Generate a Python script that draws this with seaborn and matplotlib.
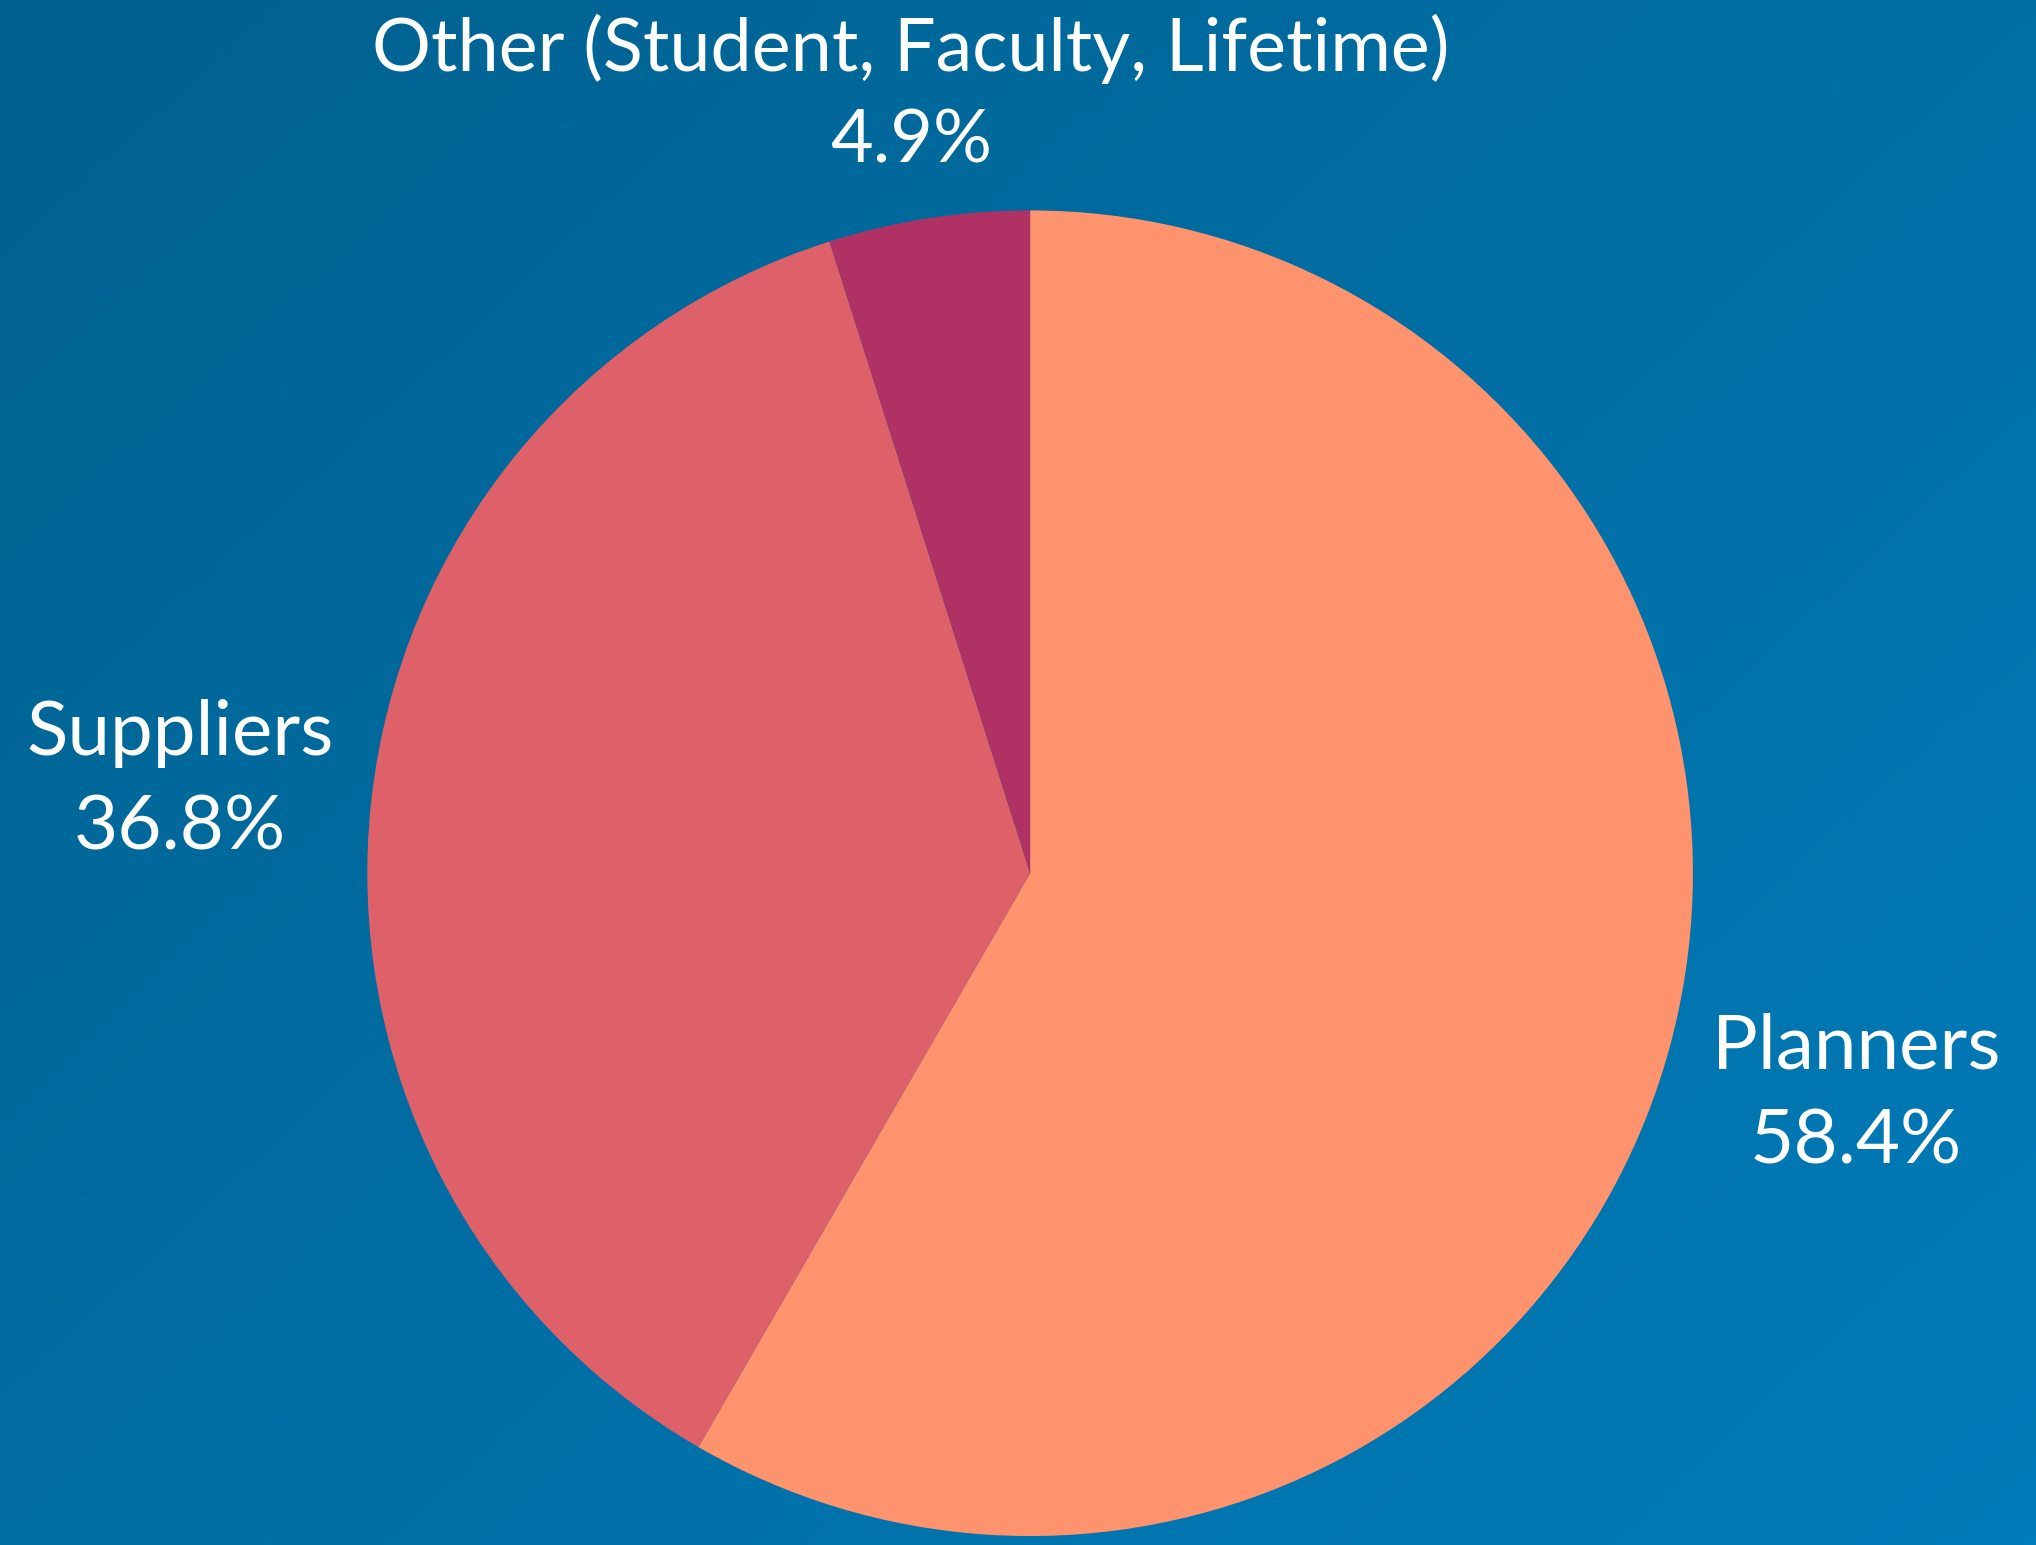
import numpy as np
import matplotlib
matplotlib.use('Agg')
import matplotlib.pyplot as plt
from matplotlib.colors import LinearSegmentedColormap
import seaborn as sns

# data
segments = ['Planners', 'Suppliers', 'Other (Student, Faculty, Lifetime)']
shares = [58.4, 36.8, 4.9]
colors = ['#FF936E', '#DE6169', '#B03265']

sns.set_theme(style='white')
plt.rcParams['font.family'] = ['Lato', 'DejaVu Sans']

fig = plt.figure(figsize=(20.36, 15.45), dpi=100)

# background gradient, dark top-left -> lighter bottom-right
bg = fig.add_axes([0, 0, 1, 1], zorder=0)
gx, gy = np.meshgrid(np.linspace(0, 1, 400), np.linspace(0, 1, 300))
grad = (gx * 0.55 + gy * 0.45)
cmap = LinearSegmentedColormap.from_list('bg', ['#00618F', '#007CBA'])
bg.imshow(grad, cmap=cmap, aspect='auto', extent=(0, 1, 0, 1), origin='upper')
bg.set_axis_off()

# pie
ax = fig.add_axes([0.1803, 0.0058, 0.6513, 0.858], zorder=1)
ax.set_facecolor('none')
labels = [f'{s}\n{v:.1f}%' for s, v in zip(segments, shares)]
wedges, texts = ax.pie(
    shares, labels=labels, colors=colors, startangle=90, counterclock=False,
    labeldistance=1.29, wedgeprops=dict(linewidth=0),
    textprops=dict(color='white', fontsize=55, linespacing=1.46),
)
for t in texts:
    t.set_ha('center')
    t.set_va('center')
    t.set_clip_on(False)

# the small slice label sits a bit lower, above the pie
other = texts[2]
other.set_position((-0.18, 1.175))
other.set_fontsize(53)

ax.set_xlim(-1, 1)
ax.set_ylim(-1, 1)
ax.set_aspect('equal')
ax.set_axis_off()

fig.savefig('out.png', dpi=100)
